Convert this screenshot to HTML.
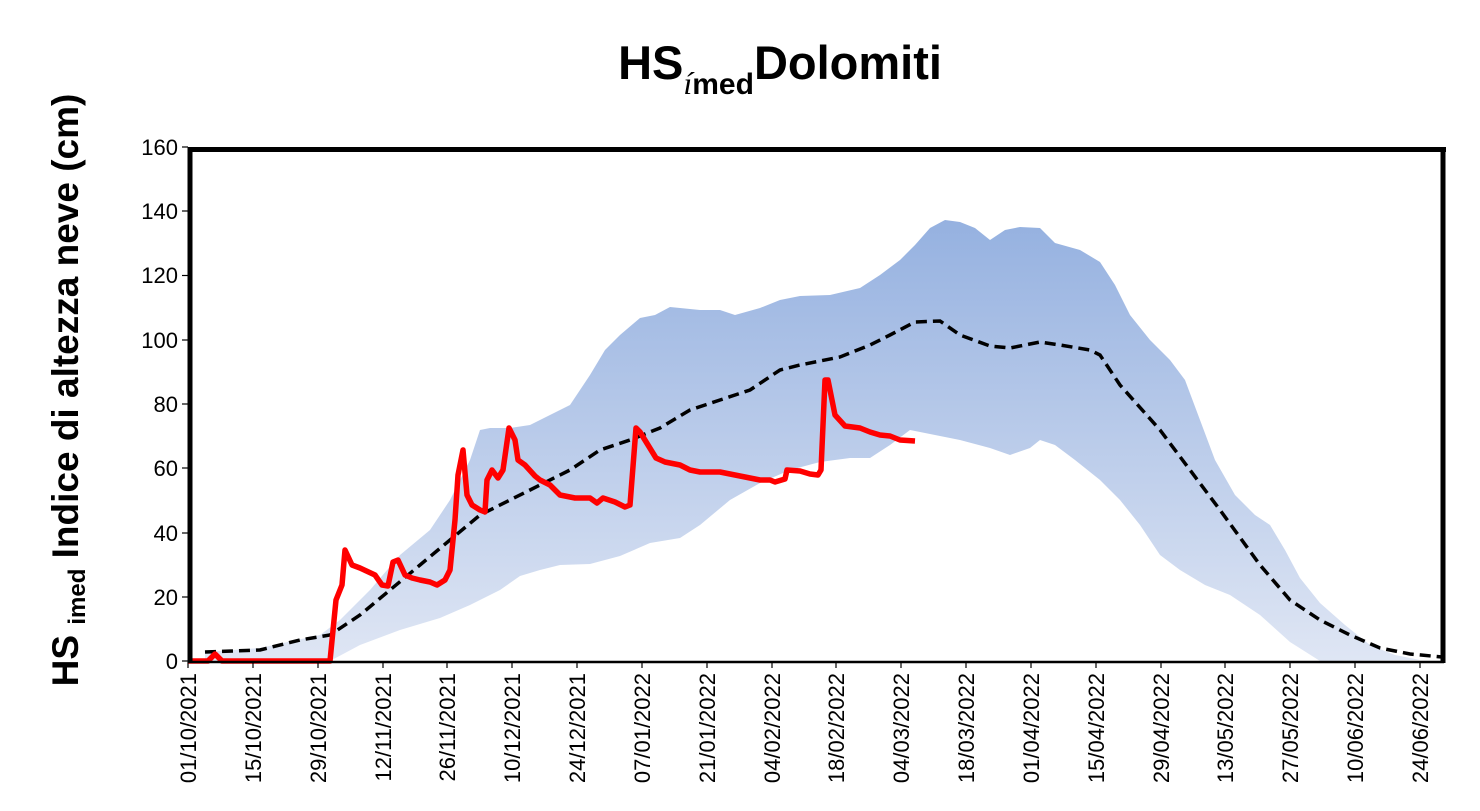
<!DOCTYPE html>
<html><head><meta charset="utf-8"><style>body{margin:0;background:#fff}svg{display:block}</style></head><body>
<svg width="1480" height="811" xmlns="http://www.w3.org/2000/svg" font-family="Liberation Sans, Arial, sans-serif">
<defs>
<linearGradient id="bg" gradientUnits="userSpaceOnUse" x1="0" y1="220" x2="0" y2="661">
<stop offset="0" stop-color="#95b1e0"/><stop offset="1" stop-color="#dfe6f4"/>
</linearGradient>
</defs>
<rect width="1480" height="811" fill="#fff"/>
<text x="780" y="79" text-anchor="middle" font-size="47" font-weight="bold"><tspan>HS</tspan><tspan font-size="32" dy="15" font-style="italic" font-family="Liberation Serif, serif" font-weight="normal">í</tspan><tspan font-size="30">med</tspan><tspan dy="-15">Dolomiti</tspan></text>
<text transform="translate(78,390) rotate(-90)" text-anchor="middle" font-size="37" font-weight="bold">HS <tspan font-size="24" dy="7">imed</tspan><tspan dy="-7"> Indice di altezza neve  (cm)</tspan></text>
<path fill="url(#bg)" d="M205,652 L260,648 L320,635 L340,620 L370,590 L400,555 L430,530 L450,500 L470,460 L480,430 L490,428 L510,428 L530,425 L550,415 L570,405 L590,375 L605,350 L620,335 L640,318 L655,315 L670,307 L700,310 L720,310 L735,315 L760,308 L780,300 L800,296 L830,295 L860,288 L880,275 L900,260 L915,245 L930,228 L945,220 L960,222 L975,228 L990,240 L1005,230 L1020,227 L1040,228 L1055,243 L1080,250 L1100,262 L1115,285 L1130,315 L1150,340 L1170,360 L1185,380 L1200,420 L1215,460 L1235,495 L1255,515 L1270,525 L1285,550 L1300,578 L1320,603 L1345,625 L1370,645 L1395,655 L1420,660 L1320,661 L1290,642 L1260,615 L1230,595 L1205,585 L1180,570 L1160,555 L1140,525 L1120,500 L1100,480 L1075,460 L1055,445 L1040,440 L1030,448 L1010,455 L990,448 L960,440 L930,434 L910,430 L890,445 L870,458 L850,458 L820,462 L790,470 L760,483 L730,500 L700,525 L680,538 L650,543 L620,556 L590,564 L560,565 L540,570 L520,576 L500,590 L470,605 L440,618 L400,630 L360,645 L330,661 L205,661 Z"/>
<path fill="none" stroke="#000" stroke-width="3.5" stroke-dasharray="11,6" d="M205,652 L260,650 L300,640 L330,635 L360,615 L390,590 L420,565 L450,540 L480,515 L510,500 L540,485 L570,470 L600,450 L630,440 L660,428 L690,410 L720,400 L750,390 L780,370 L800,365 L840,357 L870,345 L890,335 L915,322 L940,321 L960,335 L990,346 L1010,348 L1040,342 L1060,345 L1090,350 L1100,355 L1120,385 L1160,430 L1190,470 L1220,510 L1260,565 L1290,600 L1320,620 L1350,635 L1380,648 L1410,654 L1442,657"/>
<path fill="none" stroke="#f00" stroke-width="5.5" stroke-linejoin="round" d="M188,661 L208,661 L215,654 L222,661 L330,661 L336,600 L342,585 L345,550 L352,565 L360,568 L375,575 L382,585 L388,586 L393,562 L398,560 L405,575 L412,578 L420,580 L430,582 L437,585 L445,580 L450,570 L455,520 L458,475 L463,450 L467,495 L472,505 L480,510 L485,512 L487,480 L492,470 L498,478 L503,470 L509,428 L515,440 L518,460 L525,465 L535,476 L540,480 L550,485 L560,495 L575,498 L590,498 L597,503 L603,498 L615,502 L625,507 L630,505 L636,428 L640,432 L648,445 L656,458 L665,462 L680,465 L690,470 L700,472 L720,472 L740,476 L760,480 L770,480 L775,482 L785,479 L787,470 L800,471 L810,474 L818,475 L821,470 L825,380 L828,380 L835,415 L845,426 L860,428 L870,432 L880,435 L890,436 L900,440 L915,441"/>
<g stroke="#000">
<line x1="189" y1="662" x2="1444" y2="662" stroke-width="2.5"/>
<line x1="190" y1="147" x2="190" y2="663" stroke-width="5"/>
<line x1="188" y1="149.5" x2="1446" y2="149.5" stroke-width="5"/>
<line x1="1443" y1="147" x2="1443" y2="663" stroke-width="5"/>
</g>
<g stroke="#000" stroke-width="1.2">
<line x1="182" y1="147" x2="188" y2="147"/><line x1="182" y1="211" x2="188" y2="211"/><line x1="182" y1="275.5" x2="188" y2="275.5"/><line x1="182" y1="340" x2="188" y2="340"/><line x1="182" y1="404" x2="188" y2="404"/><line x1="182" y1="468" x2="188" y2="468"/><line x1="182" y1="533" x2="188" y2="533"/><line x1="182" y1="597" x2="188" y2="597"/><line x1="182" y1="661" x2="188" y2="661"/>
</g>
<g font-size="22" text-anchor="end">
<text x="178" y="155">160</text><text x="178" y="219">140</text><text x="178" y="283">120</text><text x="178" y="348">100</text><text x="178" y="412">80</text><text x="178" y="476">60</text><text x="178" y="541">40</text><text x="178" y="605">20</text><text x="178" y="669">0</text>
</g>
<g stroke="#000" stroke-width="1.2">
<line x1="188" y1="662" x2="188" y2="668"/><line x1="253" y1="662" x2="253" y2="668"/><line x1="318" y1="662" x2="318" y2="668"/><line x1="383" y1="662" x2="383" y2="668"/><line x1="447" y1="662" x2="447" y2="668"/><line x1="512" y1="662" x2="512" y2="668"/><line x1="577" y1="662" x2="577" y2="668"/><line x1="642" y1="662" x2="642" y2="668"/><line x1="707" y1="662" x2="707" y2="668"/><line x1="772" y1="662" x2="772" y2="668"/><line x1="836" y1="662" x2="836" y2="668"/><line x1="901" y1="662" x2="901" y2="668"/><line x1="966" y1="662" x2="966" y2="668"/><line x1="1031" y1="662" x2="1031" y2="668"/><line x1="1096" y1="662" x2="1096" y2="668"/><line x1="1161" y1="662" x2="1161" y2="668"/><line x1="1225" y1="662" x2="1225" y2="668"/><line x1="1290" y1="662" x2="1290" y2="668"/><line x1="1355" y1="662" x2="1355" y2="668"/><line x1="1420" y1="662" x2="1420" y2="668"/>
</g>
<g font-size="22" text-anchor="end">
<text transform="translate(196,673) rotate(-90)">01/10/2021</text>
<text transform="translate(261,673) rotate(-90)">15/10/2021</text>
<text transform="translate(326,673) rotate(-90)">29/10/2021</text>
<text transform="translate(391,673) rotate(-90)">12/11/2021</text>
<text transform="translate(455,673) rotate(-90)">26/11/2021</text>
<text transform="translate(520,673) rotate(-90)">10/12/2021</text>
<text transform="translate(585,673) rotate(-90)">24/12/2021</text>
<text transform="translate(650,673) rotate(-90)">07/01/2022</text>
<text transform="translate(715,673) rotate(-90)">21/01/2022</text>
<text transform="translate(780,673) rotate(-90)">04/02/2022</text>
<text transform="translate(844,673) rotate(-90)">18/02/2022</text>
<text transform="translate(909,673) rotate(-90)">04/03/2022</text>
<text transform="translate(974,673) rotate(-90)">18/03/2022</text>
<text transform="translate(1039,673) rotate(-90)">01/04/2022</text>
<text transform="translate(1104,673) rotate(-90)">15/04/2022</text>
<text transform="translate(1169,673) rotate(-90)">29/04/2022</text>
<text transform="translate(1233,673) rotate(-90)">13/05/2022</text>
<text transform="translate(1298,673) rotate(-90)">27/05/2022</text>
<text transform="translate(1363,673) rotate(-90)">10/06/2022</text>
<text transform="translate(1428,673) rotate(-90)">24/06/2022</text>
</g>
</svg>
</body></html>
